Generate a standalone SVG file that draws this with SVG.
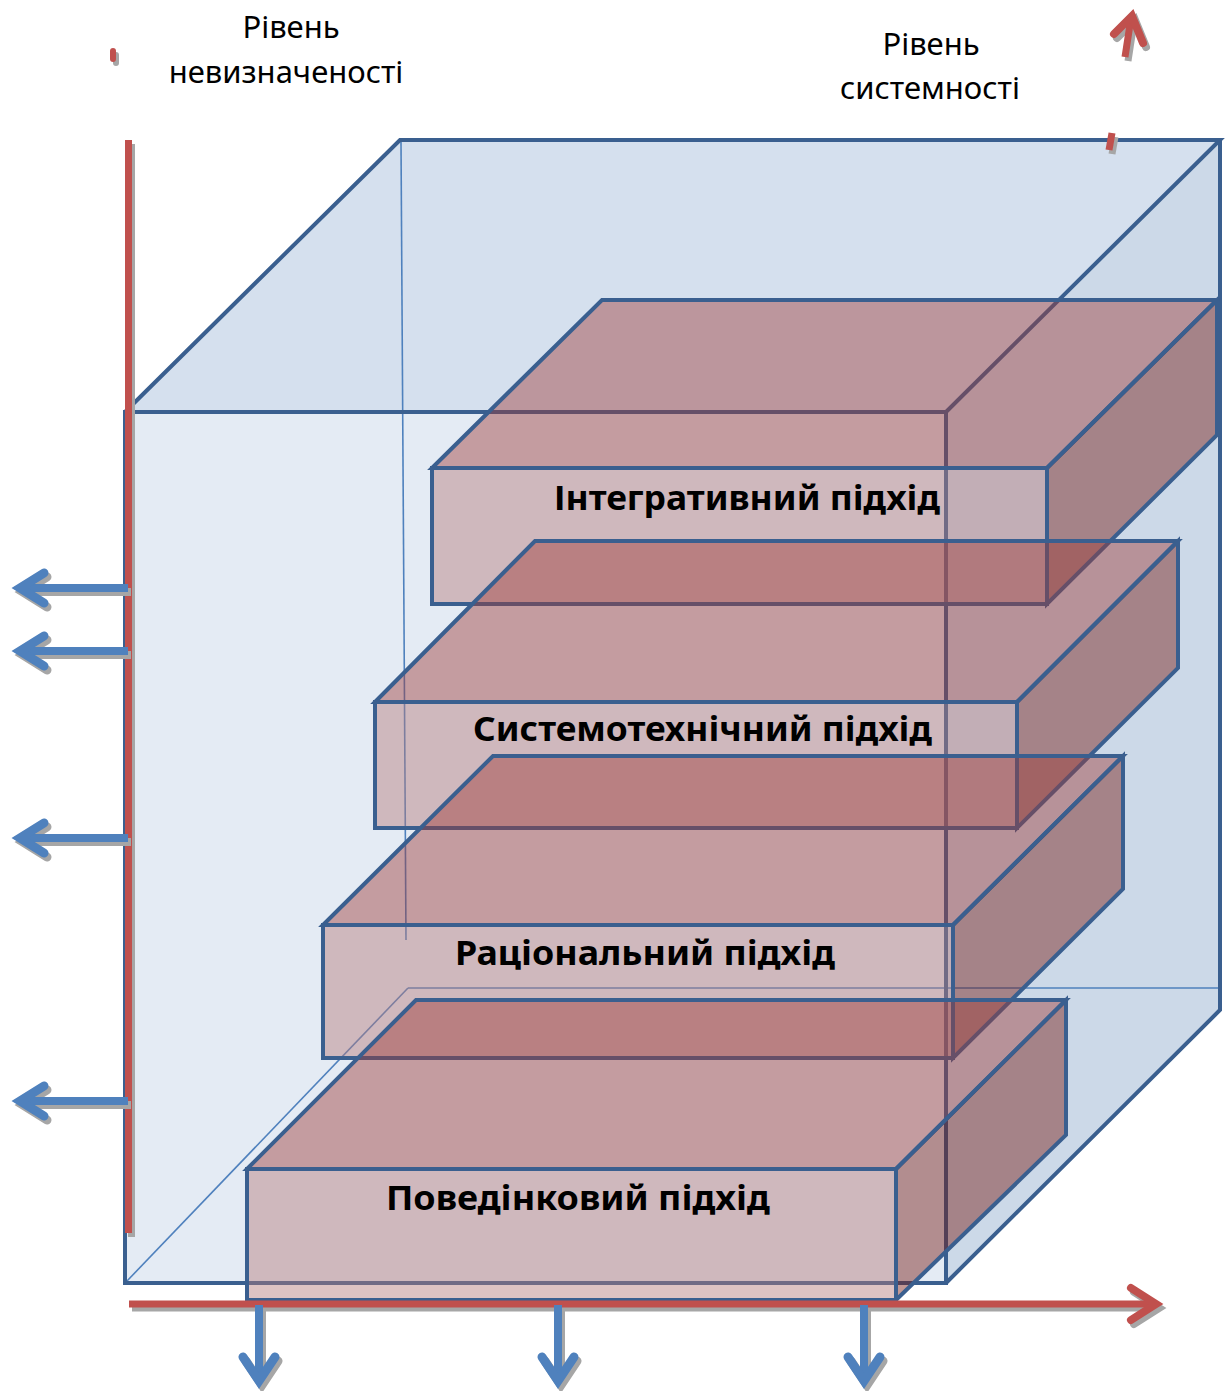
<svg xmlns="http://www.w3.org/2000/svg" xmlns:xlink="http://www.w3.org/1999/xlink" width="1229" height="1391" viewBox="0 0 1229 1391">
<style>
.edge{fill:none;stroke:#3a5f8f;stroke-width:4;stroke-linejoin:miter}
.hid{fill:none;stroke:#4f81bd;stroke-width:1.6}
.bx{stroke:#3a5f8f;stroke-width:4;stroke-linejoin:miter}
.top{fill:rgb(157,59,57);fill-opacity:0.45}
.front{fill:rgb(181,122,122);fill-opacity:0.45}
.right{fill:rgb(117,26,19);fill-opacity:0.45}
.lbl{font-family:"Noto Sans","Open Sans","Liberation Sans",sans-serif;font-weight:bold;font-size:34px;fill:#000}
.ttl{font-family:"Noto Sans","Open Sans","Liberation Sans",sans-serif;font-size:31px;fill:#000}
.red{stroke:#c0504d;fill:none}
.blue{stroke:#4f81bd;fill:none}
.shd{stroke:#a6a6a6;fill:none}
</style>
<defs>
<g id="arrL"><line x1="128" y1="0" x2="24" y2="0" stroke-width="8"/><polyline points="44,-15 20,0 44,15" stroke-width="9" stroke-linecap="round" stroke-linejoin="miter" stroke-miterlimit="10"/></g>
<g id="arrD"><line x1="0" y1="1305" x2="0" y2="1378" stroke-width="8"/><polyline points="-16,1357 0,1381 16,1357" stroke-width="9" stroke-linecap="round" stroke-linejoin="miter" stroke-miterlimit="10"/></g>
<g id="axX"><line x1="129" y1="1304" x2="1156" y2="1304" stroke-width="7"/><polyline points="1131,1288 1156,1304 1131,1320" stroke-width="8" stroke-linecap="round" stroke-linejoin="miter" stroke-miterlimit="10"/></g>
<g id="axY"><line x1="128.5" y1="140" x2="128.5" y2="1233" stroke-width="7"/></g>
<g id="axZ"><line x1="1125" y1="57" x2="1131" y2="18" stroke-width="7"/><polyline points="1114,34 1132,16 1143,43" stroke-width="8" stroke-linecap="round" stroke-linejoin="miter" stroke-miterlimit="10"/><line x1="1112" y1="133" x2="1109" y2="150" stroke-width="7"/></g>
<g id="axYtip"><path d="M113,59 L113,51" stroke-width="6" stroke-linecap="round"/></g>
</defs>

<g id="cube">
<polygon points="125,412 946,412 946,1283 125,1283" fill="#e4ebf4"/>
<polygon points="125,412 400,140 1220,140 946,412" fill="#d5e0ee"/>
<polygon points="946,412 1220,140 1220,1010 946,1283" fill="#ccd9e8"/>
<polyline class="hid" points="401,142 406,940"/>
<polyline class="hid" points="408,988 1220,988"/>
<polyline class="hid" points="127,1281 408,988"/>
<polygon class="edge" points="125,412 946,412 946,1283 125,1283"/>
<polyline class="edge" points="125,412 400,140 1220,140 946,412"/>
<polyline class="edge" points="1220,140 1220,1010 946,1283"/>
</g>

<g id="box-integrative">
<polygon class="top bx" points="432,468 602,300 1217,300 1047,468"/>
<polygon class="right bx" points="1047,468 1217,300 1217,435 1047,604"/>
<polygon class="front bx" points="432,468 1047,468 1047,604 432,604"/>
<text class="lbl" x="554" y="510" textLength="386" lengthAdjust="spacingAndGlyphs">Інтегративний підхід</text>
</g>

<g id="box-systemotechnical">
<polygon class="top bx" points="375,702 535,541 1178,541 1017,702"/>
<polygon class="right bx" points="1017,702 1178,541 1178,668 1017,828"/>
<polygon class="front bx" points="375,702 1017,702 1017,828 375,828"/>
<text class="lbl" x="473" y="741" textLength="459" lengthAdjust="spacingAndGlyphs">Системотехнічний підхід</text>
</g>

<g id="box-rational">
<polygon class="top bx" points="323,925 493,756 1123,756 953,925"/>
<polygon class="right bx" points="953,925 1123,756 1123,889 953,1058"/>
<polygon class="front bx" points="323,925 953,925 953,1058 323,1058"/>
<text class="lbl" x="455" y="965" textLength="380" lengthAdjust="spacingAndGlyphs">Раціональний підхід</text>
</g>

<g id="box-behavioral">
<polygon class="top bx" points="247,1169 416,1000 1066,1000 896,1169"/>
<polygon class="right bx" points="896,1169 1066,1000 1066,1135 896,1300"/>
<polygon class="front bx" points="247,1169 896,1169 896,1300 247,1300"/>
<text class="lbl" x="386" y="1210" textLength="384" lengthAdjust="spacingAndGlyphs">Поведінковий підхід</text>
</g>

<g id="label-uncertainty">
<text class="ttl" x="291" y="38" text-anchor="middle">Рівень</text>
<text class="ttl" x="286" y="83" text-anchor="middle">невизначеності</text>
</g>
<g id="label-systemness">
<text class="ttl" x="931" y="55" text-anchor="middle">Рівень</text>
<text class="ttl" x="930" y="99" text-anchor="middle">системності</text>
</g>

<g id="connectors">
<g class="shd" transform="translate(3,4)">
<use xlink:href="#axY"/><use xlink:href="#axX"/><use xlink:href="#axZ"/><use xlink:href="#axYtip"/>
</g>
<g class="red">
<use xlink:href="#axY"/><use xlink:href="#axX"/><use xlink:href="#axZ"/><use xlink:href="#axYtip"/>
</g>
<g class="shd" transform="translate(3,4)">
<use xlink:href="#arrL" y="588"/><use xlink:href="#arrL" y="651"/><use xlink:href="#arrL" y="838"/><use xlink:href="#arrL" y="1101"/>
<use xlink:href="#arrD" x="259"/><use xlink:href="#arrD" x="558"/><use xlink:href="#arrD" x="864"/>
</g>
<g class="blue">
<use xlink:href="#arrL" y="588"/><use xlink:href="#arrL" y="651"/><use xlink:href="#arrL" y="838"/><use xlink:href="#arrL" y="1101"/>
<use xlink:href="#arrD" x="259"/><use xlink:href="#arrD" x="558"/><use xlink:href="#arrD" x="864"/>
</g>
</g>
</svg>
